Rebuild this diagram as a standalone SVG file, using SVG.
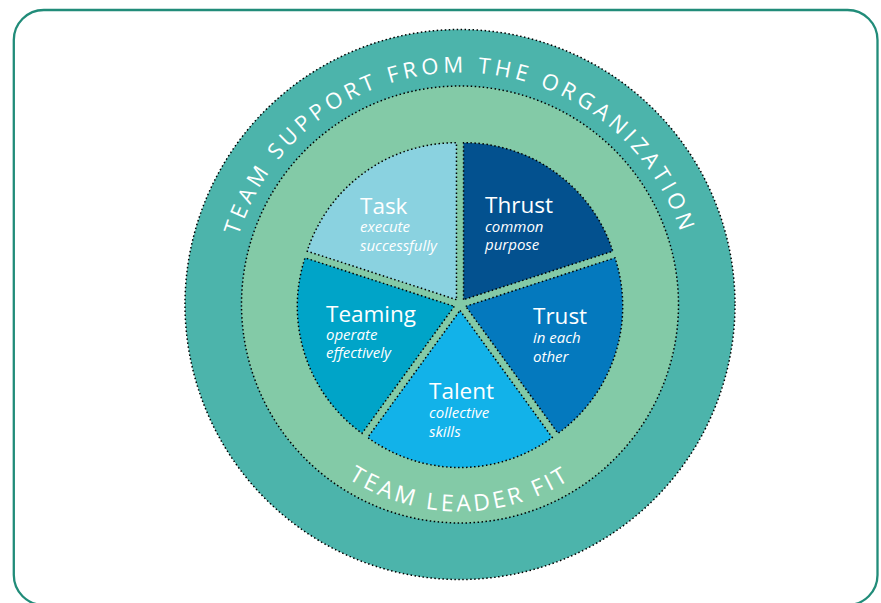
<svg xmlns="http://www.w3.org/2000/svg" width="881" height="603" viewBox="0 0 881 603">
<style>
.dot{stroke:#000;stroke-width:1.5;stroke-dasharray:1.5 2.5;}
.title{font-family:"Open Sans","Liberation Sans",sans-serif;font-size:22.5px;fill:#fff;}
.sub{font-family:"Open Sans","Liberation Sans",sans-serif;font-size:15px;font-style:italic;fill:#fff;}
.ring{font-family:"Open Sans","Liberation Sans",sans-serif;fill:#fff;}
</style>
<defs>
<path id="outerArc" d="M 242 383.8 A 232 232 0 1 1 678 383.8"/>
<path id="innerArc" d="M 253 304.5 A 207 207 0 0 0 667 304.5"/>
</defs>
<rect id="frame" x="13.8" y="10" width="863.7" height="595" rx="30" ry="30" fill="#fff" stroke="#218c79" stroke-width="2.3"/>
<g id="outer-ring">
<circle cx="460" cy="304.5" r="275" fill="#4cb4ab" class="dot"/>
<text class="ring" font-size="22" letter-spacing="4.3" text-anchor="middle"><textPath href="#outerArc" startOffset="50%">TEAM SUPPORT FROM THE ORGANIZATION</textPath></text>
</g>
<g id="inner-ring">
<circle cx="460" cy="304.5" r="218.5" fill="#83caa7" class="dot"/>
<text class="ring" font-size="23" letter-spacing="3.3" text-anchor="middle"><textPath href="#innerArc" startOffset="50%">TEAM LEADER FIT</textPath></text>
</g>
<g id="connectors"></g>
<g id="thrust">
<path d="M 463.53 299.65 L 463.53 142.65 A 157 157 0 0 1 612.85 251.14 Z" fill="#03518f" class="dot"/>
<text class="title" x="485" y="213">Thrust</text>
<text class="sub" x="485" y="232">common</text>
<text class="sub" x="485" y="250">purpose</text>
</g>
<g id="trust">
<path d="M 465.71 306.35 L 615.03 257.84 A 157 157 0 0 1 557.99 433.36 Z" fill="#0479be" class="dot"/>
<text class="title" x="533" y="324">Trust</text>
<text class="sub" x="533" y="343">in each</text>
<text class="sub" x="533" y="362">other</text>
</g>
<g id="talent">
<path d="M 460 310.5 L 552.28 437.51 A 157 157 0 0 1 367.72 437.51 Z" fill="#12b2e9" class="dot"/>
<text class="title" x="429" y="399">Talent</text>
<text class="sub" x="429" y="418">collective</text>
<text class="sub" x="429" y="437">skills</text>
</g>
<g id="teaming">
<path d="M 454.29 306.35 L 362.01 433.36 A 157 157 0 0 1 304.97 257.84 Z" fill="#00a4c8" class="dot"/>
<text class="title" x="326" y="322">Teaming</text>
<text class="sub" x="326" y="340">operate</text>
<text class="sub" x="326" y="358">effectively</text>
</g>
<g id="task">
<path d="M 456.47 299.65 L 307.15 251.14 A 157 157 0 0 1 456.47 142.65 Z" fill="#8ad2e0" class="dot"/>
<text class="title" x="360" y="214">Task</text>
<text class="sub" x="360" y="232">execute</text>
<text class="sub" x="360" y="251">successfully</text>
</g>
</svg>
